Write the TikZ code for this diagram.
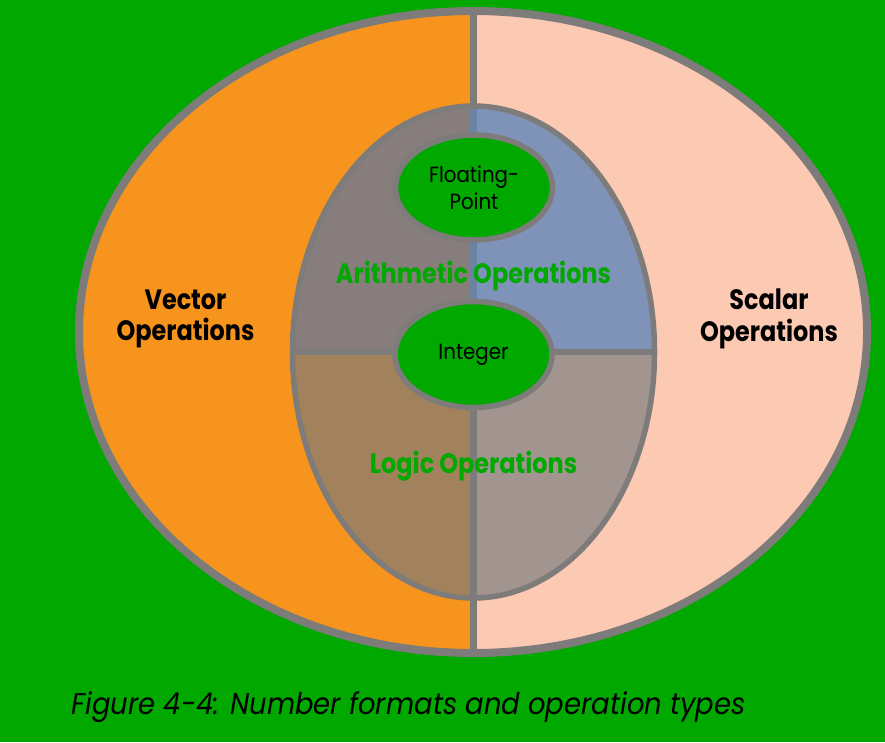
\documentclass[tikz,border=0pt]{standalone}
\usepackage{fontspec}
\setmainfont{Poppins}
\newfontfamily\labfont{Poppins}[FakeStretch=0.855]
\newfontfamily\fmtfont{Poppins}[FakeStretch=0.9]
\newfontfamily\capfont{Poppins}[FakeStretch=0.915]
\usetikzlibrary{shapes.geometric}
\definecolor{bg}{HTML}{00A800}
\definecolor{edge}{HTML}{7E7B7B}
\definecolor{vorange}{HTML}{F7941D}
\definecolor{speach}{HTML}{FCC9B3}
\definecolor{qul}{HTML}{877D7C}
\definecolor{qur}{HTML}{7F92B7}
\definecolor{qll}{HTML}{A1825C}
\definecolor{qlr}{HTML}{A2948F}
\definecolor{bluedeg}{HTML}{6B83A3}
\tikzset{
  bigtext/.style={font=\labfont\fontsize{28}{31.7}\selectfont\bfseries, align=center, text=black},
  optext/.style={font=\labfont\fontsize{28}{31.7}\selectfont\bfseries, text=bg},
  fmt/.style={ellipse, draw=edge, fill=bg, line width=5.5pt, inner sep=0pt,
              minimum width=157pt, minimum height=105pt,
              font=\fmtfont\fontsize{22}{26.7}\selectfont, align=center, text=black},
}
\begin{document}
\begin{tikzpicture}[x=1pt,y=-1pt]
\useasboundingbox (0,0) rectangle (885,742);
\fill[bg] (0,0) rectangle (885,742);
% outer ellipse: vector / scalar halves
\node[ellipse, draw=edge, line width=8pt, inner sep=0pt,
      minimum width=788pt, minimum height=642pt,
      path picture={
        \fill[vorange] (path picture bounding box.south west) rectangle (path picture bounding box.north);
        \fill[speach] (path picture bounding box.south) rectangle (path picture bounding box.north east);
        \draw[edge, line width=7pt] (path picture bounding box.north) -- (path picture bounding box.south);
      }] (outer) at (473,332) {};
% inner ellipse: four quadrants
\node[ellipse, draw=edge, line width=5.5pt, inner sep=0pt,
      minimum width=362pt, minimum height=492pt,
      path picture={
        \fill[qul] (path picture bounding box.north west) rectangle (path picture bounding box.center);
        \fill[qur] (path picture bounding box.north east) rectangle (path picture bounding box.center);
        \fill[qll] (path picture bounding box.south west) rectangle (path picture bounding box.center);
        \fill[qlr] (path picture bounding box.south east) rectangle (path picture bounding box.center);
        \draw[bluedeg, line width=7pt] (path picture bounding box.north) -- (path picture bounding box.center);
        \draw[edge, line width=7pt] (path picture bounding box.center) -- (path picture bounding box.south);
        \draw[edge, line width=5.5pt] (path picture bounding box.west) -- (path picture bounding box.east);
      }] (inner) at (473.5,352) {};
% labels
\node[bigtext] (vec) at (185.5,319) {Vector\\Operations};
\node[bigtext] (sca) at (769,319) {Scalar\\Operations};
\node[optext, anchor=base] (arith) at (473.5,283) {Arithmetic Operations};
\node[optext, anchor=base] (logic) at (473.5,473) {Logic Operations};
% number formats
\node[fmt] (fp) at (474,187.5) {Floating-\\Point};
\node[fmt, minimum height=106pt] (int) at (473.5,354.5) {Integer};
% caption
\node[anchor=base west, font=\capfont\fontsize{30}{34}\selectfont\itshape, text=black, inner sep=0pt] (cap) at (71.5,714) {Figure 4-4: Number formats and operation types};
\end{tikzpicture}
\end{document}
